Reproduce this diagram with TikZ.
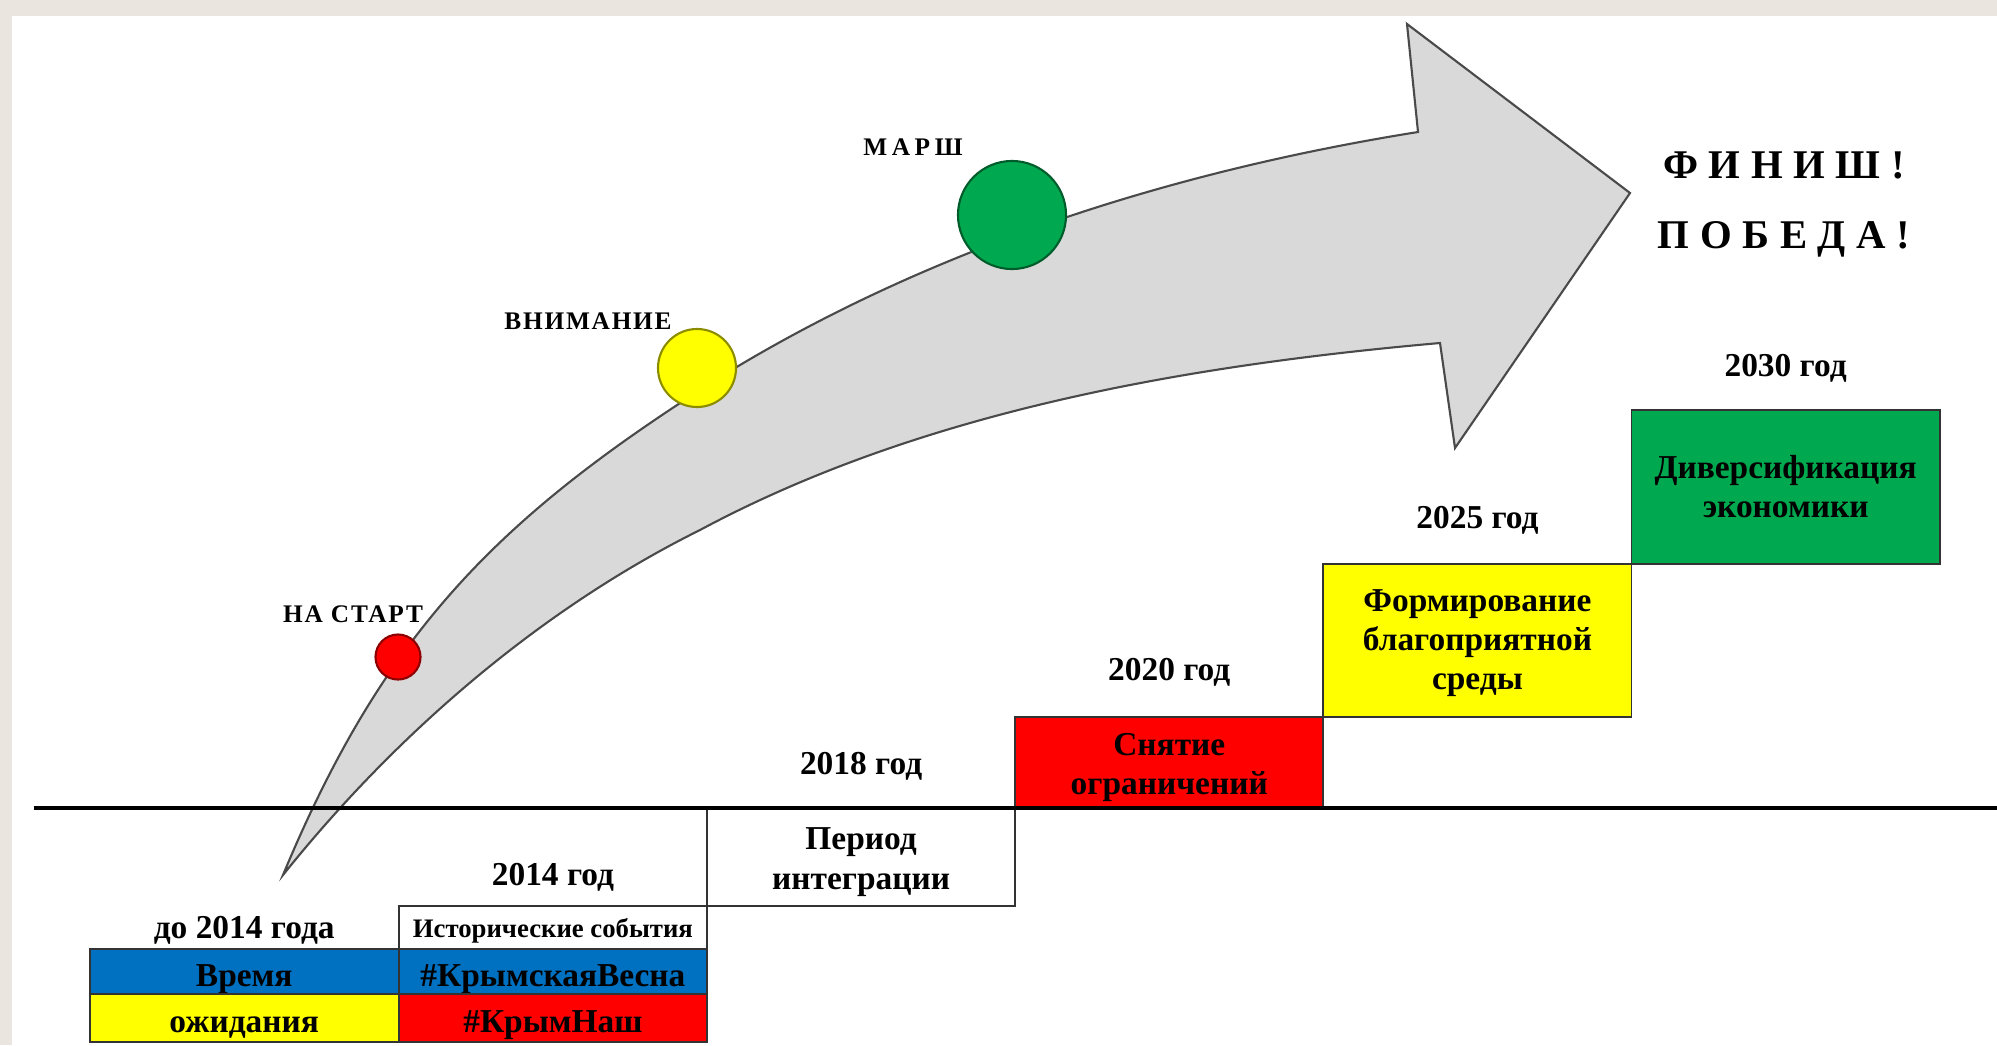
\documentclass[tikz,border=0pt]{standalone}
\usepackage{fontspec}
\setmainfont{Liberation Serif}
\usetikzlibrary{positioning}
\definecolor{pageframe}{HTML}{EAE6DF}
\definecolor{arrowgray}{HTML}{D9D9D9}
\definecolor{edgegray}{HTML}{4A4A4A}
\definecolor{stepred}{HTML}{FF0000}
\definecolor{stepyellow}{HTML}{FFFF00}
\definecolor{stepgreen}{HTML}{00A94F}
\definecolor{stepblue}{HTML}{0070C0}
\tikzset{
    stepbox/.style={draw=black!80, line width=0.5pt, minimum width=3.08cm, inner sep=0pt, outer sep=0pt, align=center, font=\fontsize{9.5}{11.1}\selectfont\bfseries},
    cellbox/.style={stepbox, text height=0.36cm, text depth=0.07cm},
    yearlabel/.style={inner sep=0pt, text height=0.22cm, text depth=0.07cm, font=\fontsize{9.5}{11.1}\selectfont\bfseries},
    milestone/.style={inner sep=0pt, anchor=base, font=\fontsize{7.2}{9}\selectfont\bfseries\addfontfeatures{LetterSpace=7}},
    lamp/.style={circle, draw=#1!55!black, line width=0.6pt, fill=#1, inner sep=0pt},
    finish/.style={inner sep=0pt, anchor=base, font=\fontsize{11.6}{14}\selectfont\bfseries\addfontfeatures{LetterSpace=26}}
}

\begin{document}
\begin{tikzpicture}[x=0.01cm, y=-0.01cm]
\useasboundingbox (0,0) rectangle (1997,1045);
\fill[pageframe] (0,0) rectangle (1997,1045);
\fill[white] (12,16) rectangle (1997,1045);

% Curved arrow
\filldraw[fill=arrowgray, draw=edgegray, line width=0.6pt]
    (283,875) .. controls (387,625) and (505,511) .. (735,368)
    .. controls (942,244) and (1180,170) .. (1418,132)
    -- (1407,24) -- (1630,193) -- (1455,448) -- (1440,343)
    .. controls (1191,365) and (924,410) .. (700,530)
    .. controls (539,610) and (395,735) .. (283,875)
    -- cycle;

% Milestones
\node[lamp=stepred, minimum size=0.45cm] (start) at (398,657) {};
\node[lamp=stepyellow, minimum size=0.78cm] (attn) at (697,368) {};
\node[lamp=stepgreen, minimum size=1.08cm] (march) at (1012,215) {};
\node[milestone] (startlbl) at (353,622) {НА СТАРТ};
\node[milestone] (attnlbl) at (588,329) {ВНИМАНИЕ};
\node[milestone, font=\fontsize{7.2}{9}\selectfont\bfseries\addfontfeatures{LetterSpace=18}] (marchlbl) at (913,155) {МАРШ};

% Steps
\node[stepbox, minimum height=0.98cm, text height=0.71cm, anchor=north west] (integr) at (707,808) {Период\\интеграции};
\node[stepbox, fill=stepred, minimum height=0.91cm, text height=0.71cm] (lift) [above right=0cm and 0cm of integr] {Снятие\\ограничений};
\node[stepbox, fill=stepyellow, minimum height=1.53cm, text height=1.06cm] (favour) [above right=0cm and 0cm of lift] {Формирование\\благоприятной\\среды};
\node[stepbox, fill=stepgreen, minimum height=1.54cm] (divers) [above right=0cm and 0cm of favour] {Диверсификация\\экономики};
\node[cellbox, minimum height=0.43cm, text height=0.26cm, text depth=0.06cm, font=\fontsize{7.6}{9}\selectfont\bfseries] (events) [below left=0cm and 0cm of integr] {Исторические события};
\node[cellbox, fill=stepblue, minimum height=0.45cm] (spring) [below=0cm of events] {\#КрымскаяВесна};
\node[cellbox, fill=stepred, minimum height=0.48cm] (ours) [below=0cm of spring] {\#КрымНаш};
\node[cellbox, fill=stepblue, minimum height=0.45cm, minimum width=3.09cm] (wait) [left=0cm of spring] {Время};
\node[cellbox, fill=stepyellow, minimum height=0.48cm, minimum width=3.09cm] (expect) [left=0cm of ours] {ожидания};

% Years
\node[yearlabel] (y2013) [above=0.03cm of wait] {до 2014 года};
\node[yearlabel] (y2014) [above=0.13cm of events] {2014 год};
\node[yearlabel] (y2018) [above=0.26cm of integr] {2018 год};
\node[yearlabel] (y2020) [above=0.29cm of lift] {2020 год};
\node[yearlabel] (y2025) [above=0.28cm of favour] {2025 год};
\node[yearlabel] (y2030) [above=0.26cm of divers] {2030 год};

% Timeline
\coordinate (axisL) at (34,808);
\coordinate (axisR) at (1997,808);
\draw[line width=1.1pt] (axisL) -- (axisR);

% Finish
\node[finish] (fin) at (1784,178) {ФИНИШ!};
\node[finish] (win) at (1784,248) {ПОБЕДА!};

\end{tikzpicture}
\end{document}
